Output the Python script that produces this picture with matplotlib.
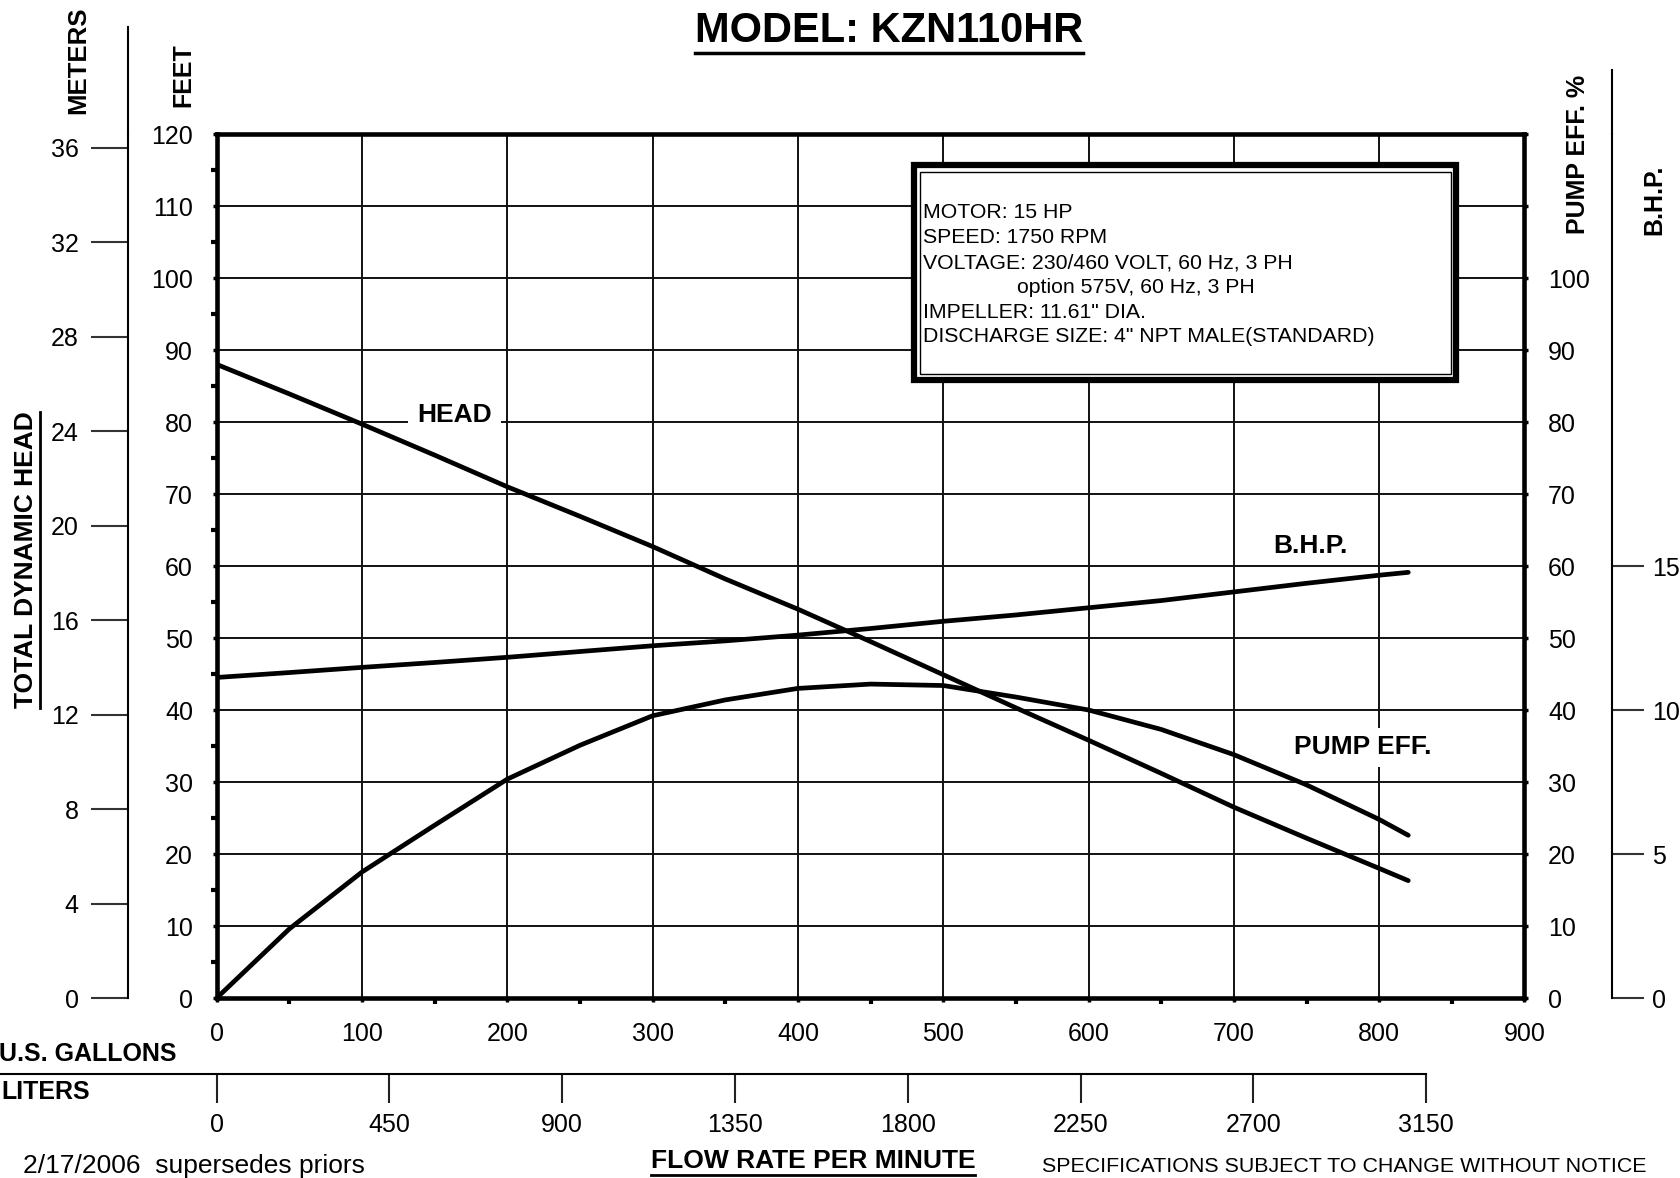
import matplotlib
matplotlib.use("Agg")
import matplotlib.pyplot as plt
from matplotlib.lines import Line2D
from matplotlib.patches import Rectangle
from matplotlib.transforms import blended_transform_factory
from matplotlib.ticker import MultipleLocator, FixedLocator

plt.rcParams['font.family'] = ['Liberation Sans', 'DejaVu Sans']

# ---------------- data ----------------
flow_gpm = [0, 50, 100, 150, 200, 250, 300, 350, 400, 450, 500, 550, 600, 650, 700, 750, 800, 820]
head_ft = [88.0, 83.9, 79.7, 75.4, 71.0, 66.9, 62.7, 58.2, 54.0, 49.5, 44.9, 40.3, 35.8, 31.2, 26.5, 22.2, 18.0, 16.3]
eff_pct = [0.0, 9.6, 17.5, 24.0, 30.4, 35.1, 39.2, 41.4, 43.0, 43.6, 43.4, 41.8, 40.0, 37.3, 33.8, 29.6, 24.8, 22.6]
bhp_hp = [11.13, 11.30, 11.48, 11.65, 11.83, 12.03, 12.23, 12.40, 12.60, 12.83, 13.08, 13.30, 13.55, 13.80, 14.10, 14.40, 14.68, 14.78]

gpm_ticks = [0, 100, 200, 300, 400, 500, 600, 700, 800, 900]
liter_ticks = [0, 450, 900, 1350, 1800, 2250, 2700, 3150]
feet_ticks = [0, 10, 20, 30, 40, 50, 60, 70, 80, 90, 100, 110, 120]
meter_ticks = [0, 4, 8, 12, 16, 20, 24, 28, 32, 36]
eff_ticks = [0, 10, 20, 30, 40, 50, 60, 70, 80, 90, 100]
bhp_ticks = [0, 5, 10, 15]

info_lines = ["MOTOR: 15 HP",
              "SPEED: 1750 RPM",
              "VOLTAGE: 230/460 VOLT, 60 Hz, 3 PH",
              "                option 575V, 60 Hz, 3 PH",
              "IMPELLER: 11.61\" DIA.",
              "DISCHARGE SIZE: 4\" NPT MALE(STANDARD)"]

FT_PER_M = 3.28084
L_PER_GAL = 3.785

# ---------------- figure ----------------
W, H, DPI = 1681, 1178, 100
fig = plt.figure(figsize=(W / DPI, H / DPI), dpi=DPI)
fig.patch.set_facecolor('white')


def fx(px):
    return px / W


def fy(py):
    return 1 - py / H


AX_L, AX_R, AX_T, AX_B = 216.7, 1524.5, 134.0, 998.0
ax = fig.add_axes([fx(AX_L), fy(AX_B), (AX_R - AX_L) / W, (AX_B - AX_T) / H])
ax.set_xlim(0, 900)
ax.set_ylim(0, 120)
ax.set_xticks(gpm_ticks)
ax.set_yticks(feet_ticks)
ax.xaxis.set_minor_locator(MultipleLocator(50))
ax.yaxis.set_minor_locator(MultipleLocator(5))
ax.grid(True, which='major', color='#111111', lw=1.4)
ax.set_axisbelow(True)
for s in ax.spines.values():
    s.set_linewidth(3.3)
ax.tick_params(which='both', direction='out', length=3, width=2.5, labelsize=18, pad=14,
               right=False, top=False)
ax.tick_params(which='minor', length=4, width=3)

ax.plot(flow_gpm, head_ft, color='black', lw=3.4, solid_capstyle='round',
        solid_joinstyle='round', zorder=3)

# pump efficiency axis (right)
ax_e = ax.twinx()
ax_e.set_ylim(0, 120)
ax_e.set_yticks(eff_ticks)
ax_e.yaxis.set_minor_locator(FixedLocator([110, 120]))
for s in ax_e.spines.values():
    s.set_visible(False)
ax_e.tick_params(which='both', direction='out', length=3, width=2.5, labelsize=18, pad=14)
ax_e.plot(flow_gpm, eff_pct, color='black', lw=3.4, solid_capstyle='round',
          solid_joinstyle='round', zorder=3)

# B.H.P. axis (far right)
ax_b = ax.twinx()
ax_b.set_ylim(0, 30)
for k, s in ax_b.spines.items():
    s.set_visible(k == 'right')
ax_b.spines['right'].set_position(('outward', 63))
ax_b.spines['right'].set_linewidth(1.5)
ax_b.set_yticks(bhp_ticks)
ax_b.tick_params(direction='out', length=23, width=1.5, labelsize=18, pad=6, color='#333333')
ax_b.plot(flow_gpm, bhp_hp, color='black', lw=3.4, solid_capstyle='round',
          solid_joinstyle='round', zorder=3)

# meters axis (far left)
ax_m = ax.twinx()
ax_m.set_ylim(0, 120 / FT_PER_M)
for k, s in ax_m.spines.items():
    s.set_visible(k == 'left')
ax_m.spines['left'].set_position(('outward', 63.8))
ax_m.spines['left'].set_linewidth(1.5)
ax_m.yaxis.set_ticks_position('left')
ax_m.set_yticks(meter_ticks)
ax_m.tick_params(axis='y', direction='out', length=26.6, width=1.5, labelsize=18, pad=9,
                 color='#333333', left=True, right=False, labelleft=True, labelright=False)

# extensions of outer axis lines above the plot
fig.add_artist(Line2D([fx(128.5), fx(128.5)], [fy(27), fy(AX_T)], color='black', lw=1.5))
fig.add_artist(Line2D([fx(1612), fx(1612)], [fy(70), fy(AX_T)], color='black', lw=1.5))

# liters axis
liters_y = -(1074 - AX_B) / (AX_B - AX_T)
sec = ax.secondary_xaxis(liters_y, functions=(lambda g: g * L_PER_GAL, lambda l: l / L_PER_GAL))
sec.set_xticks(liter_ticks)
sec.spines['bottom'].set_visible(False)
sec.tick_params(direction='out', length=21, width=1.5, labelsize=18, pad=7, color='#222222')
tr = blended_transform_factory(ax.transData, ax.transAxes)
ax.add_line(Line2D([-200, liter_ticks[-1] / L_PER_GAL], [liters_y, liters_y], transform=tr,
                   color='black', lw=1.5, clip_on=False))


# info box
def axf(px, py):
    return ((px - AX_L) / (AX_R - AX_L), (AX_B - py) / (AX_B - AX_T))


x0, y0 = axf(914, 380)
x1, y1 = axf(1456, 165)
ax.add_patch(Rectangle((x0, y0), x1 - x0, y1 - y0, transform=ax.transAxes, fc='white',
                       ec='black', lw=4.5, zorder=2.6))
x0, y0 = axf(920, 374)
x1, y1 = axf(1451, 172)
ax.add_patch(Rectangle((x0, y0), x1 - x0, y1 - y0, transform=ax.transAxes, fc='none',
                       ec='black', lw=1.0, zorder=2.7))
for i, line in enumerate(info_lines):
    fig.text(fx(923), fy(213 + 24.8 * i), line, fontsize=15.3, va='center', ha='left', zorder=5)

# curve labels
ax.text(163.5, 81.0, "HEAD", fontsize=19, fontweight='bold', ha='center', va='center', zorder=4,
        bbox=dict(boxstyle='square,pad=0.35', fc='white', ec='none'))
ax.text(753, 62.8, "B.H.P.", fontsize=19, fontweight='bold', ha='center', va='center', zorder=4)
ax.text(789, 34.8, "PUMP EFF.", fontsize=19, fontweight='bold', ha='center', va='center', zorder=4,
        bbox=dict(boxstyle='square,pad=0.3', fc='white', ec='none'))

# outer labels
title = fig.text(fx(889), fy(31), "MODEL: KZN110HR", fontsize=30, fontweight='bold',
                 ha='center', va='center')
fig.text(fx(78.5), fy(60), "METERS", fontsize=18.5, fontweight='bold', rotation=90,
         ha='center', va='center')
fig.text(fx(183), fy(75), "FEET", fontsize=18, fontweight='bold', rotation=90,
         ha='center', va='center')
tdh = fig.text(fx(26.5), fy(560), "TOTAL DYNAMIC HEAD", fontsize=19, fontweight='bold',
               rotation=90, ha='center', va='center')
fig.text(fx(1578), fy(154), "PUMP EFF. %", fontsize=18, fontweight='bold', rotation=90,
         ha='center', va='center')
fig.text(fx(1654), fy(200), "B.H.P.", fontsize=18, fontweight='bold', rotation=90,
         ha='center', va='center')
fig.text(fx(177), fy(1054), "U.S. GALLONS", fontsize=18, fontweight='bold', ha='right', va='center')
fig.text(fx(1), fy(1092), "LITERS", fontsize=18, fontweight='bold', ha='left', va='center')
fig.text(fx(23), fy(1166), "2/17/2006  supersedes priors", fontsize=19, ha='left', va='center')
flow = fig.text(fx(813), fy(1161), "FLOW RATE PER MINUTE", fontsize=19, fontweight='bold',
                ha='center', va='center')
fig.text(fx(1042), fy(1166), "SPECIFICATIONS SUBJECT TO CHANGE WITHOUT NOTICE", fontsize=15.4,
         ha='left', va='center')

# underlines
fig.canvas.draw()
r = fig.canvas.get_renderer()
bb = title.get_window_extent(r)
fig.add_artist(Line2D([bb.x0 / W, bb.x1 / W], [fy(53), fy(53)], color='black', lw=2.5))
bb = flow.get_window_extent(r)
fig.add_artist(Line2D([bb.x0 / W, bb.x1 / W], [fy(1175), fy(1175)], color='black', lw=2.0))
bb = tdh.get_window_extent(r)
fig.add_artist(Line2D([fx(40), fx(40)], [bb.y0 / H, bb.y1 / H], color='black', lw=2.0))

fig.savefig("out.png", dpi=DPI, facecolor='white')
